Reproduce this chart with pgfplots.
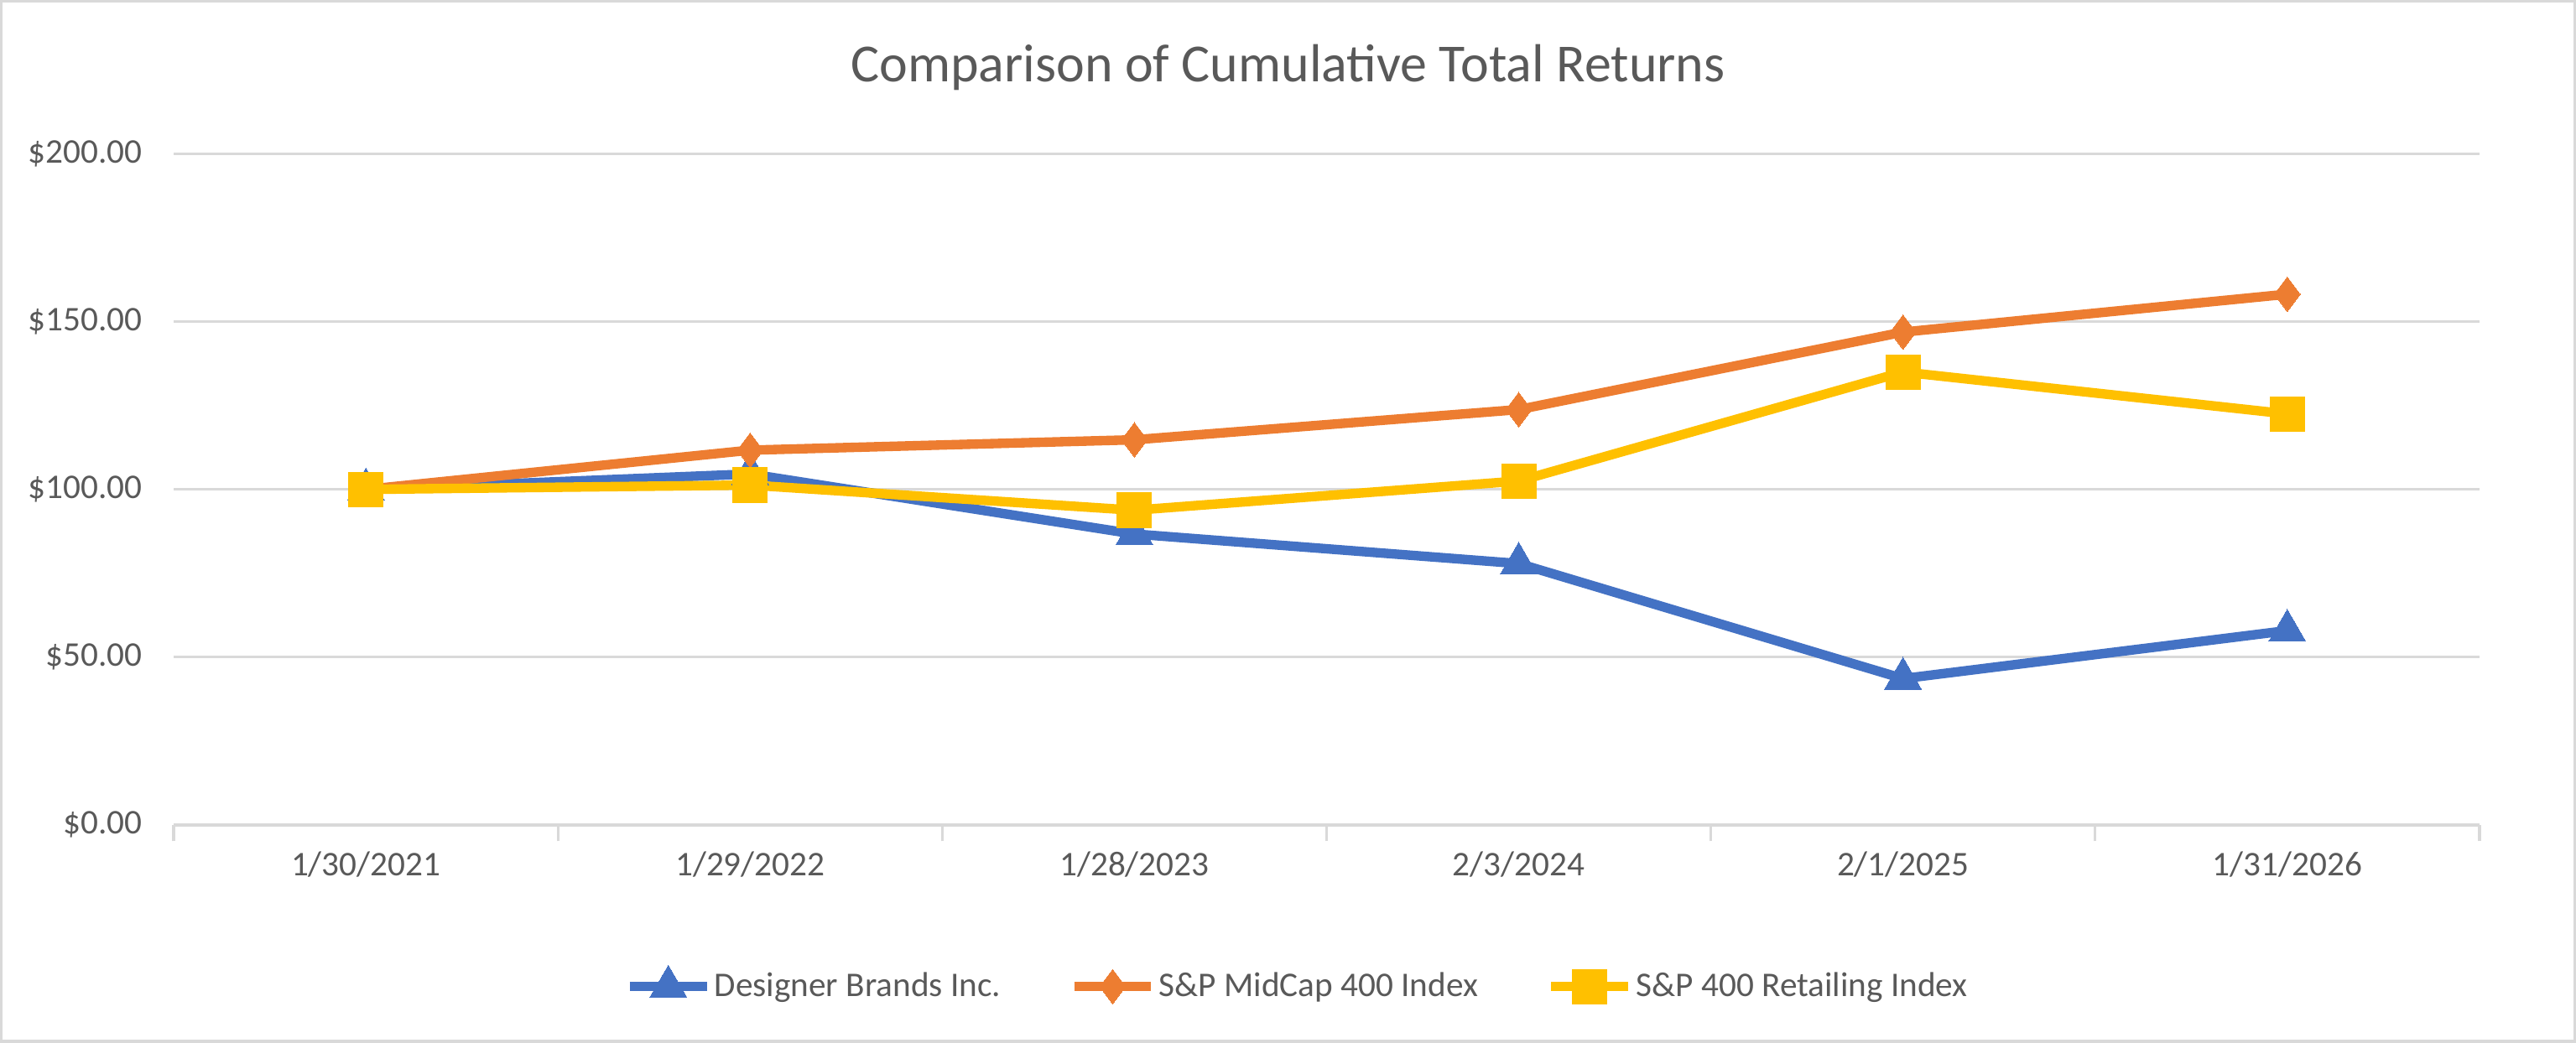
\documentclass[border=0pt]{standalone}
\usepackage{fontspec}
\setmainfont{Carlito}
\usepackage{pgfplots}
\pgfplotsset{compat=1.18}
\definecolor{dbblue}{HTML}{4472C4}
\definecolor{mcorange}{HTML}{ED7D31}
\definecolor{rtyellow}{HTML}{FFC000}
\definecolor{txtgray}{HTML}{595959}
\definecolor{gridgray}{HTML}{D9D9D9}
\begin{document}
\begin{tikzpicture}
  % whole chart area, 1 display px = 0.02cm
  \draw[gridgray, line width=1pt] (0,0) rectangle (31.36cm,12.68cm);
  \node[txtgray, font=\fontsize{18.6}{22}\selectfont] at (15.68cm,11.88cm) {Comparison of Cumulative Total Returns};
  \begin{axis}[
      at={(2.1cm,2.64cm)}, anchor=south west,
      width=28.1cm, height=8.18cm, scale only axis,
      xmin=-0.5, xmax=5.5, ymin=0, ymax=200,
      axis x line*=bottom, axis y line*=left,
      x axis line style={gridgray, line width=1pt, -},
      y axis line style={draw=none},
      xtick={-0.5,0.5,1.5,2.5,3.5,4.5,5.5},
      xticklabels={},
      xtick align=outside,
      major x tick style={gridgray, line width=1pt},
      major tick length=0.2cm,
      extra x ticks={0,1,2,3,4,5},
      extra x tick labels={1/30/2021,1/29/2022,1/28/2023,2/3/2024,2/1/2025,1/31/2026},
      extra x tick style={major tick length=0pt, xticklabel style={yshift=-0.2cm}},
      ytick={0,50,100,150,200},
      yticklabels={\$0.00,\$50.00,\$100.00,\$150.00,\$200.00},
      ymajorgrids, y grid style={gridgray, line width=1pt},
      major y tick style={draw=none},
      ticklabel style={txtgray, font=\fontsize{12}{14}\selectfont},
      yticklabel style={xshift=-0.26cm},
      legend style={at={(0.4875,-0.24)}, anchor=center, draw=none,
        legend columns=3, font=\fontsize{12}{14}\selectfont, text=txtgray,
        nodes={inner xsep=1pt},
        /tikz/every even column/.append style={column sep=0.8cm}},
      legend cell align=left,
      legend image code/.code={
        \draw[#1, mark repeat=2, mark phase=2] plot coordinates {(0cm,0cm) (0.47cm,0cm) (0.94cm,0cm)};},
    ]
    \addplot[dbblue, line width=3.3pt, mark=triangle*, mark size=0.26cm,
      mark options={line width=0pt}]
      coordinates {(0,100) (1,104.6) (2,86.7) (3,77.9) (4,43.6) (5,57.9)};
    \addlegendentry{Designer Brands Inc.}
    \addplot[mcorange, line width=3.3pt, mark=diamond*, mark size=0.21cm,
      mark options={line width=0pt}]
      coordinates {(0,100) (1,111.7) (2,114.8) (3,123.8) (4,146.9) (5,158.2)};
    \addlegendentry{S\&P MidCap 400 Index}
    \addplot[rtyellow, line width=3.3pt, mark=square*, mark size=0.21cm,
      mark options={line width=0pt}]
      coordinates {(0,100) (1,101.3) (2,93.8) (3,102.5) (4,135.0) (5,122.5)};
    \addlegendentry{S\&P 400 Retailing Index}
  \end{axis}
\end{tikzpicture}
\end{document}
